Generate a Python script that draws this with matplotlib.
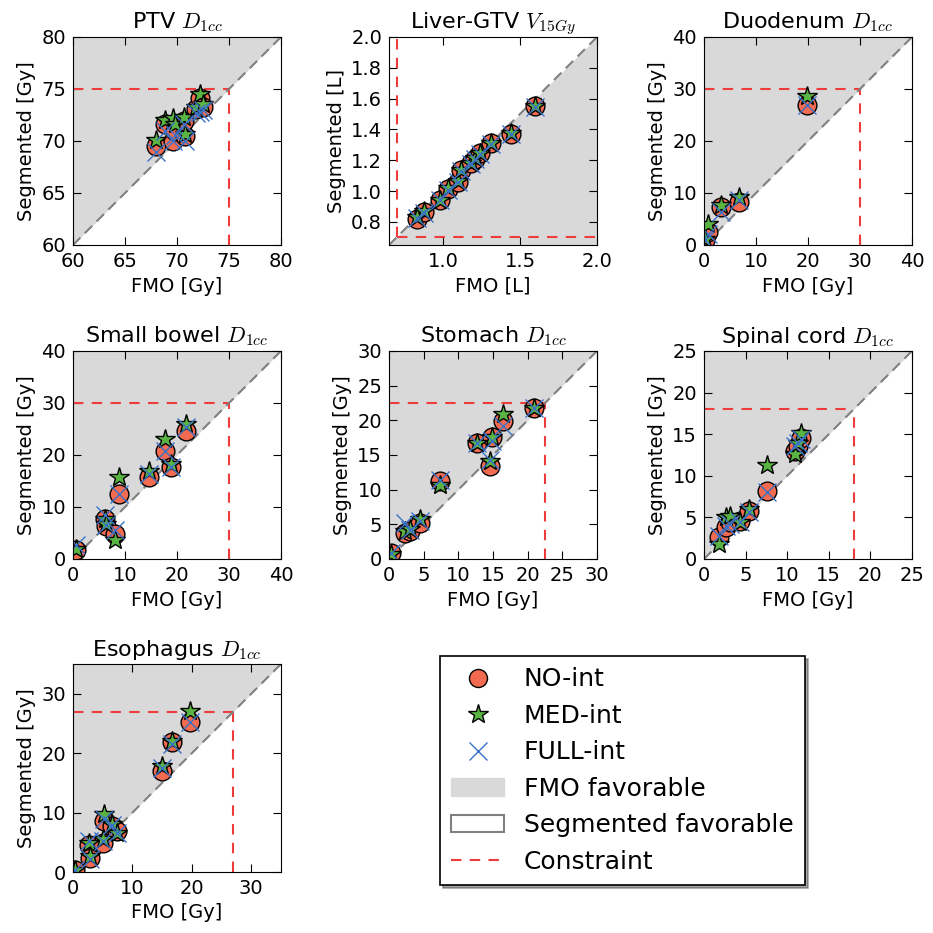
import matplotlib
matplotlib.use("Agg")
import matplotlib.pyplot as plt
from matplotlib.lines import Line2D
from matplotlib.patches import Patch

plt.rcParams["font.family"] = "DejaVu Sans"
plt.rcParams["font.size"] = 14
plt.rcParams["mathtext.fontset"] = "cm"
plt.rcParams["xtick.direction"] = "in"
plt.rcParams["ytick.direction"] = "in"
plt.rcParams["xtick.top"] = True
plt.rcParams["ytick.right"] = True
plt.rcParams["xtick.major.size"] = 6
plt.rcParams["ytick.major.size"] = 6
plt.rcParams["xtick.major.pad"] = 5
plt.rcParams["ytick.major.pad"] = 5

NO_COLOR = "#f26a50"
MED_COLOR = "#5ab443"
FULL_COLOR = "#3a72c8"
SHADE = "#d9d9d9"
CONSTRAINT_COLOR = "#ee3b3b"

# PTV D1cc [Gy]
ptv_fmo = [68.0, 68.8, 69.6, 69.8, 70.8, 70.7, 71.8, 72.2, 72.5]
ptv_no = [69.5, 71.6, 70.0, 71.0, 70.5, 71.9, 73.1, 74.1, 73.3]
ptv_med = [70.1, 72.0, 72.2, 71.6, 70.7, 72.3, 73.3, 74.5, 73.6]
ptv_full = [68.9, 71.0, 70.0, 70.6, 70.0, 71.6, 72.7, 72.8, 73.0]

# Liver-GTV V15Gy [L]
liver_fmo = [0.83, 0.875, 0.98, 1.03, 1.095, 1.12, 1.18, 1.21, 1.24, 1.31, 1.44, 1.60]
liver_no = [0.82, 0.865, 0.94, 1.015, 1.06, 1.135, 1.18, 1.21, 1.245, 1.31, 1.37, 1.55]
liver_med = [0.83, 0.87, 0.945, 1.02, 1.065, 1.14, 1.185, 1.215, 1.25, 1.31, 1.375, 1.55]
liver_full = [0.825, 0.86, 0.94, 1.01, 1.06, 1.13, 1.175, 1.21, 1.24, 1.305, 1.37, 1.545]

# Duodenum D1cc [Gy]
duo_fmo = [0.2, 0.8, 3.2, 6.8, 19.8]
duo_no = [0.9, 2.5, 7.4, 8.3, 26.9]
duo_med = [1.2, 4.1, 7.6, 9.3, 28.7]
duo_full = [0.9, 2.2, 6.4, 8.6, 26.9]

# Small bowel D1cc [Gy]
sb_fmo = [0.5, 6.1, 6.4, 8.0, 8.85, 14.7, 17.6, 18.8, 21.7]
sb_no = [1.7, 7.7, 6.4, 4.85, 12.5, 15.7, 20.8, 17.7, 24.6]
sb_med = [2.0, 7.7, 6.8, 3.6, 15.8, 17.0, 23.0, 18.3, 26.0]
sb_full = [2.6, 8.4, 6.6, 5.5, 12.5, 16.3, 20.8, 17.7, 25.3]

# Stomach D1cc [Gy]
sto_fmo = [0.3, 2.3, 3.1, 4.4, 7.4, 12.7, 14.5, 14.8, 16.4, 20.9]
sto_no = [0.8, 3.8, 4.0, 5.2, 11.3, 16.8, 13.4, 17.6, 19.9, 21.8]
sto_med = [0.7, 4.0, 4.3, 5.7, 10.7, 16.8, 14.2, 17.6, 20.9, 21.8]
sto_full = [0.9, 5.2, 4.2, 5.5, 11.4, 16.8, 14.3, 17.0, 19.2, 21.8]

# Spinal cord D1cc [Gy]
sc_fmo = [1.85, 2.7, 3.1, 4.3, 5.45, 7.6, 10.9, 11.3, 11.7]
sc_no = [2.6, 3.8, 4.4, 4.6, 5.8, 8.2, 13.0, 13.6, 14.6]
sc_med = [1.8, 5.0, 5.2, 4.4, 6.0, 11.3, 12.6, 14.0, 15.2]
sc_full = [2.8, 4.0, 4.2, 4.5, 5.7, 8.0, 13.6, 13.9, 14.4]

# Esophagus D1cc [Gy]
eso_fmo = [0.3, 2.7, 2.9, 5.1, 5.2, 6.5, 7.4, 14.9, 16.7, 19.7]
eso_no = [0.4, 4.6, 2.4, 4.9, 8.6, 7.7, 6.9, 17.0, 21.8, 25.2]
eso_med = [0.3, 4.9, 2.65, 5.5, 9.7, 8.0, 6.6, 17.9, 22.1, 27.1]
eso_full = [0.4, 5.2, 2.2, 5.3, 8.9, 7.9, 6.6, 17.5, 21.6, 25.2]


def draw_panel(ax, title, fmo, no, med, full, lim, ticks, constraint,
               unit="Gy", higher_better=False, xticks=None):
    lo, hi = lim
    if higher_better:
        ax.fill_between([lo, hi], [lo, lo], [lo, hi], color=SHADE, lw=0)
        ax.plot([constraint, constraint], [constraint, hi], ls="--",
                color=CONSTRAINT_COLOR, lw=1.5, dashes=(5, 4))
        ax.plot([constraint, hi], [constraint, constraint], ls="--",
                color=CONSTRAINT_COLOR, lw=1.5, dashes=(5, 4))
    else:
        ax.fill_between([lo, hi], [lo, hi], [hi, hi], color=SHADE, lw=0)
        ax.plot([lo, constraint], [constraint, constraint], ls="--",
                color=CONSTRAINT_COLOR, lw=1.5, dashes=(5, 4))
        ax.plot([constraint, constraint], [lo, constraint], ls="--",
                color=CONSTRAINT_COLOR, lw=1.5, dashes=(5, 4))
    ax.plot([lo, hi], [lo, hi], ls="--", color="#808080", lw=1.5,
            dashes=(5, 3))

    ax.plot(fmo, no, "o", ms=13.5, mfc=NO_COLOR, mec="black", mew=1, ls="none")
    ax.plot(fmo, med, "*", ms=15, mfc=MED_COLOR, mec="black", mew=1, ls="none")
    ax.plot(fmo, full, "x", ms=13, mec=FULL_COLOR, mew=1, ls="none")

    ax.set_xlim(lo, hi)
    ax.set_ylim(lo, hi)
    ax.set_xticks(xticks if xticks is not None else ticks)
    ax.set_yticks(ticks)
    ax.set_xlabel("FMO [%s]" % unit)
    ax.set_ylabel("Segmented [%s]" % unit)
    ax.set_title(title, fontsize=16)


fig = plt.figure(figsize=(9.33, 9.33), dpi=100)
W = 933.0
lefts = [73, 389, 704]
tops = [37, 351, 664]
size = 208


def make_axes(row, col):
    return fig.add_axes([lefts[col] / W, 1 - (tops[row] + size) / W,
                         size / W, size / W])


draw_panel(make_axes(0, 0), "PTV $D_{1cc}$", ptv_fmo, ptv_no, ptv_med,
           ptv_full, (60, 80), [60, 65, 70, 75, 80], 75)
draw_panel(make_axes(0, 1), "Liver-GTV $V_{15Gy}$", liver_fmo, liver_no,
           liver_med, liver_full, (0.65, 2.0),
           [0.8, 1.0, 1.2, 1.4, 1.6, 1.8, 2.0], 0.7, unit="L",
           higher_better=True, xticks=[1.0, 1.5, 2.0])
draw_panel(make_axes(0, 2), "Duodenum $D_{1cc}$", duo_fmo, duo_no, duo_med,
           duo_full, (0, 40), [0, 10, 20, 30, 40], 30)
draw_panel(make_axes(1, 0), "Small bowel $D_{1cc}$", sb_fmo, sb_no, sb_med,
           sb_full, (0, 40), [0, 10, 20, 30, 40], 30)
draw_panel(make_axes(1, 1), "Stomach $D_{1cc}$", sto_fmo, sto_no, sto_med,
           sto_full, (0, 30), [0, 5, 10, 15, 20, 25, 30], 22.5)
draw_panel(make_axes(1, 2), "Spinal cord $D_{1cc}$", sc_fmo, sc_no, sc_med,
           sc_full, (0, 25), [0, 5, 10, 15, 20, 25], 18)
draw_panel(make_axes(2, 0), "Esophagus $D_{1cc}$", eso_fmo, eso_no, eso_med,
           eso_full, (0, 35), [0, 10, 20, 30], 27)

handles = [
    Line2D([], [], marker="o", ms=13, mfc=NO_COLOR, mec="black", ls="none"),
    Line2D([], [], marker="*", ms=15, mfc=MED_COLOR, mec="black", ls="none"),
    Line2D([], [], marker="x", ms=13, mec=FULL_COLOR, mew=1, ls="none"),
    Patch(facecolor=SHADE, edgecolor=SHADE),
    Patch(facecolor="white", edgecolor="#808080", lw=1.5),
    Line2D([], [], color=CONSTRAINT_COLOR, ls="--", lw=1.5, dashes=(5, 4)),
]
labels = ["NO-int", "MED-int", "FULL-int", "FMO favorable",
          "Segmented favorable", "Constraint"]
leg = fig.legend(handles, labels, loc="upper left",
                 bbox_to_anchor=(440 / W, 1 - 656 / W), borderaxespad=0,
                 fontsize=18, fancybox=False, shadow=True, framealpha=1,
                 edgecolor="black", numpoints=1, borderpad=0.45,
                 labelspacing=0.5, handlelength=2.1, handletextpad=0.8)
leg.get_frame().set_linewidth(1.2)

fig.savefig("out.png", dpi=100)
